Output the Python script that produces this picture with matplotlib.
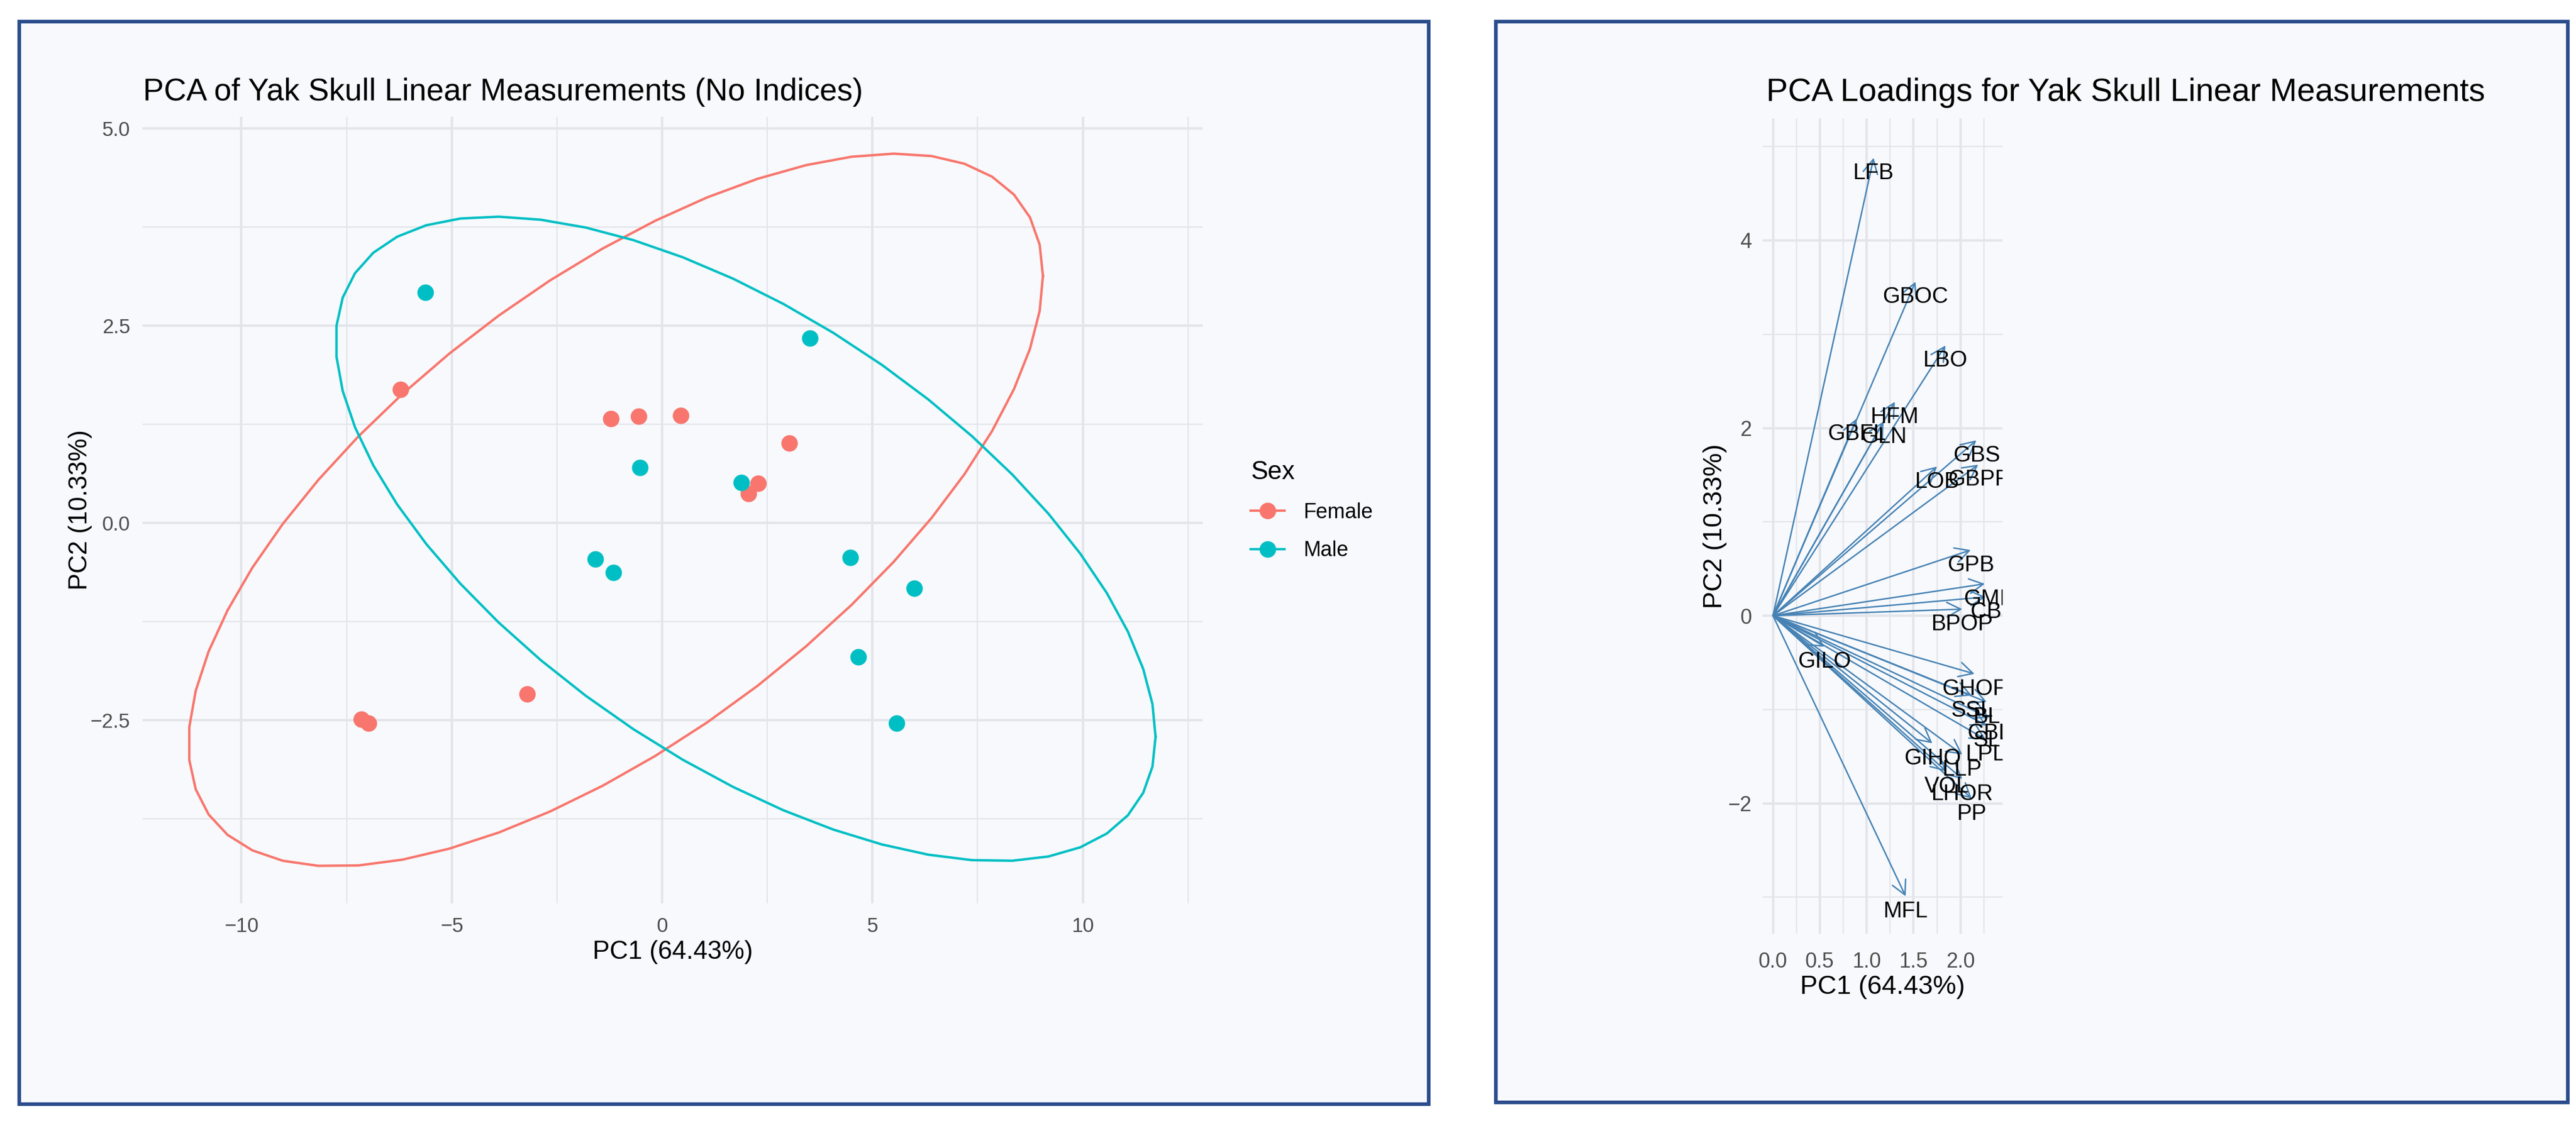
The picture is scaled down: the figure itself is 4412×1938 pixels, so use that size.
import numpy as np
import matplotlib
matplotlib.use("Agg")
import matplotlib.pyplot as plt
from matplotlib.patches import Rectangle
from matplotlib.lines import Line2D

plt.rcParams['font.family'] = ['Liberation Sans', 'DejaVu Sans']

# ---------------- data: PCA scores ----------------
female_pc1 = [-6.21, -1.21, -0.55, 0.45, 3.03, 2.29, 2.06, -3.20, -7.14, -6.97]
female_pc2 = [1.69, 1.32, 1.35, 1.36, 1.01, 0.50, 0.37, -2.17, -2.49, -2.54]
male_pc1 = [-5.62, 3.52, -0.52, 1.89, -1.58, -1.15, 4.48, 6.00, 4.67, 5.58]
male_pc2 = [2.92, 2.34, 0.70, 0.51, -0.46, -0.63, -0.44, -0.83, -1.70, -2.54]

groups = ["Female", "Male"]
group_colors = ["#F8766D", "#00BFC4"]

# ---------------- data: loadings ----------------
load_names = ["LFB", "GBOC", "LBO", "HFM", "GBFL", "GLN", "GBS", "LOB", "GBPF",
              "GPB", "GMI", "CB", "BPOP", "GILO", "GHOF", "SSL", "BL", "CBL",
              "SL", "GIHO", "LPL", "LLP", "VOL", "LHOR", "PP", "MFL"]
load_pc1 = [1.074, 1.52, 1.84, 1.30, 0.89, 1.18, 2.17, 1.75, 2.19,
            2.11, 2.26, 2.27, 2.02, 0.55, 2.15, 2.12, 2.28, 2.31,
            2.28, 1.70, 2.27, 2.02, 1.85, 2.02, 2.12, 1.415]
load_pc2 = [4.88, 3.56, 2.88, 2.28, 2.10, 2.07, 1.87, 1.59, 1.61,
            0.70, 0.34, 0.20, 0.07, -0.33, -0.62, -0.85, -0.92, -1.09,
            -1.17, -1.36, -1.32, -1.48, -1.66, -1.74, -1.95, -2.99]

pc1_label = "PC1 (64.43%)"
pc2_label = "PC2 (10.33%)"


# ---------------- helpers (stat_ellipse, type = "t") ----------------
def cov_trob(X, nu=5, maxit=25, tol=0.01):
    n, p = X.shape
    loc = X.mean(axis=0)
    w = np.ones(n)
    Xc = X - loc
    for _ in range(maxit):
        w0 = w
        Xc = X - loc
        A = np.sqrt(w / w.sum())[:, None] * Xc
        _, d, Vt = np.linalg.svd(A, full_matrices=False)
        wX = Xc @ Vt.T @ np.diag(1.0 / d)
        Q = (wX ** 2).sum(axis=1)
        w = (nu + p) / (nu + Q)
        loc = (w[:, None] * X).sum(axis=0) / w.sum()
        if np.all(np.abs(w - w0) < tol):
            break
    sw = np.sqrt(w)[:, None] * Xc
    cov = sw.T @ sw / n
    return loc, cov


def t_ellipse(x, y, level=0.95, segments=51):
    X = np.column_stack([x, y])
    n = X.shape[0]
    center, shape = cov_trob(X)
    R = np.linalg.cholesky(shape).T  # upper triangular
    dfd = n - 1
    fq = (dfd / 2.0) * ((1 - level) ** (-2.0 / dfd) - 1)  # qf(level, 2, dfd)
    radius = np.sqrt(2 * fq)
    ang = np.arange(segments + 1) * 2 * np.pi / segments
    circ = np.column_stack([np.cos(ang), np.sin(ang)])
    ell = center + radius * (circ @ R)
    return ell[:, 0], ell[:, 1]


W, H = 4412, 1938
DPI = 300
fig = plt.figure(figsize=(W / DPI, H / DPI), dpi=DPI, facecolor="white")

BG = "#F7F9FC"
FRAME = "#2B4C8C"
GRID = "#E3E5EA"
TICKC = "#4D4D4D"


def fx(px):
    return px / W


def fy(py):
    return 1 - py / H


# frames
for (x0, y0, x1, y1) in [(33, 37, 2447, 1892), (2562, 37, 4398, 1889)]:
    fig.add_artist(Rectangle((fx(x0), fy(y1)), fx(x1) - fx(x0), fy(y0) - fy(y1),
                             transform=fig.transFigure, facecolor=BG,
                             edgecolor=FRAME, linewidth=1.5, zorder=0))


def style_axes(ax, xmaj, xmin, ymaj, ymin, tick_fs, padx, pady):
    ax.set_facecolor("none")
    for s in ax.spines.values():
        s.set_visible(False)
    ax.set_xticks(xmaj)
    ax.set_xticks(xmin, minor=True)
    ax.set_yticks(ymaj)
    ax.set_yticks(ymin, minor=True)
    ax.grid(True, which="major", color=GRID, linewidth=1.0, zorder=0)
    ax.grid(True, which="minor", color=GRID, linewidth=0.55, zorder=0)
    ax.set_axisbelow(True)
    ax.tick_params(which="both", length=0, colors=TICKC, labelsize=tick_fs)
    ax.tick_params(axis="x", pad=padx)
    ax.tick_params(axis="y", pad=pady)


# ---------------- left panel: scores ----------------
axL = fig.add_axes([fx(244), fy(1548), fx(2060) - fx(244), fy(200) - fy(1548)])
axL.set_xlim(-12.35, 12.85)
axL.set_ylim(-4.82, 5.15)
style_axes(axL, [-10, -5, 0, 5, 10], [-7.5, -2.5, 2.5, 7.5, 12.5],
           [-2.5, 0, 2.5, 5.0], [-3.75, -1.25, 1.25, 3.75], 8.3, 5.5, 5.0)
axL.set_yticklabels(["\u22122.5", "0.0", "2.5", "5.0"])

data = [(female_pc1, female_pc2), (male_pc1, male_pc2)]
handles = []
for (px, py), g, c in zip(data, groups, group_colors):
    axL.scatter(px, py, s=46, color=c, edgecolors="none", zorder=3)
    ex, ey = t_ellipse(np.array(px), np.array(py))
    axL.plot(ex, ey, color=c, linewidth=1.0, zorder=2)
    handles.append(Line2D([0], [0], color=c, linewidth=1.0, marker="o",
                          markersize=6.8, markeredgewidth=0))

axL.set_xlabel(pc1_label, fontsize=10.5)
axL.set_ylabel(pc2_label, fontsize=10.5)
axL.xaxis.label.set_va("center")
axL.yaxis.label.set_va("center")
axL.xaxis.set_label_coords(0.5, (1548 - 1631) / 1348)
axL.yaxis.set_label_coords((137 - 244) / 1816, 0.5)
fig.text(fx(245), fy(172), "PCA of Yak Skull Linear Measurements (No Indices)",
         fontsize=12.8, ha="left", va="baseline")

leg = fig.legend(handles, groups, title="Sex", loc="upper left",
                 bbox_to_anchor=(fx(2128), fy(775)), frameon=False,
                 fontsize=8.6, title_fontsize=10.5, handlelength=1.6,
                 handletextpad=0.9, labelspacing=0.85, borderaxespad=0)
leg._legend_box.align = "left"

# ---------------- right panel: loadings ----------------
axR = fig.add_axes([fx(3019), fy(1600), fx(3430) - fx(3019), fy(203) - fy(1600)])
axR.set_xlim(-0.11, 2.45)
axR.set_ylim(-3.39, 5.30)
style_axes(axR, [0.0, 0.5, 1.0, 1.5, 2.0], [0.25, 0.75, 1.25, 1.75, 2.25],
           [-2, 0, 2, 4], [-3, -1, 1, 3, 5], 8.6, 7.5, 4.5)
axR.set_xticklabels(["0.0", "0.5", "1.0", "1.5", "2.0"])
axR.set_yticklabels(["\u22122", "0", "2", "4"])

ARROW = "#4682B4"
for name, lx, ly in zip(load_names, load_pc1, load_pc2):
    axR.annotate("", xy=(lx, ly), xytext=(0, 0),
                 arrowprops=dict(arrowstyle="->,head_length=0.57,head_width=0.3",
                                 mutation_scale=10, color=ARROW, linewidth=0.6,
                                 shrinkA=0, shrinkB=0), zorder=2)
for name, lx, ly in zip(load_names, load_pc1, load_pc2):
    t = axR.annotate(name, xy=(lx, ly), xytext=(0, -6.3), textcoords="offset points",
                     ha="center", va="center", fontsize=9.2, color="black",
                     annotation_clip=False, zorder=3)
    t.set_clip_on(True)
    t.set_clip_box(axR.bbox)

axR.set_xlabel(pc1_label, fontsize=10.8)
axR.set_ylabel(pc2_label, fontsize=10.8)
axR.xaxis.label.set_va("center")
axR.yaxis.label.set_va("center")
axR.xaxis.set_label_coords(0.5, (1600 - 1691) / 1397)
axR.yaxis.set_label_coords((2938 - 3019) / 411, 0.5)
fig.text(fx(3025), fy(173), "PCA Loadings for Yak Skull Linear Measurements",
         fontsize=13.4, ha="left", va="baseline")

fig.savefig("out.png", dpi=DPI, facecolor="white")
